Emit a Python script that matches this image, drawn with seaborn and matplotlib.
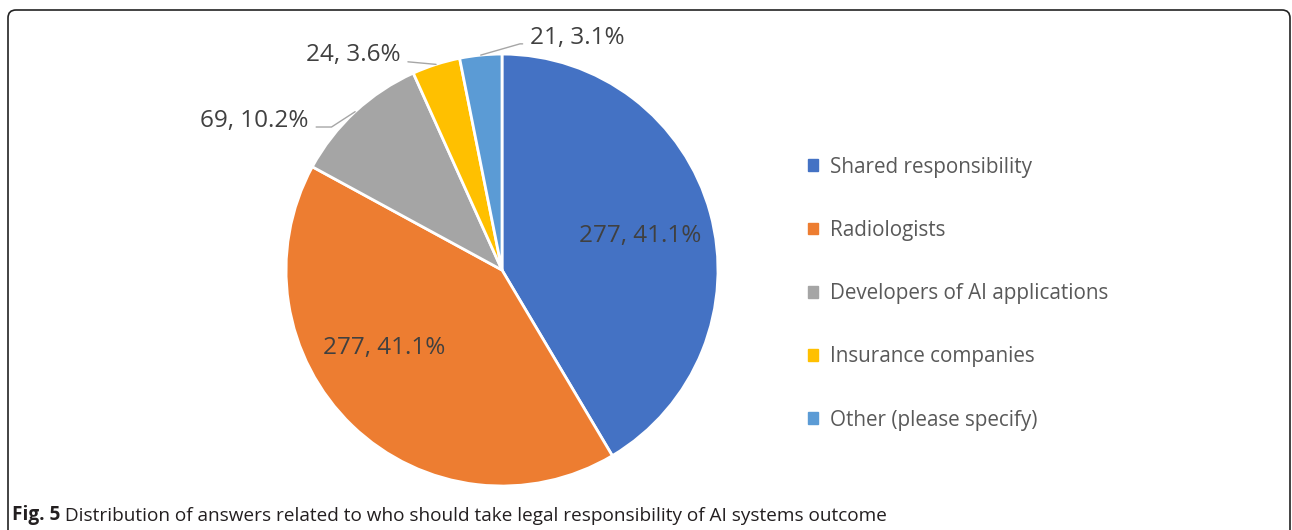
import matplotlib
matplotlib.use("Agg")
import matplotlib.pyplot as plt
import matplotlib.patches as mpatches
from matplotlib.transforms import IdentityTransform
import numpy as np
import seaborn as sns

# --- data ---
categories = ["Shared responsibility", "Radiologists", "Developers of AI applications",
              "Insurance companies", "Other (please specify)"]
counts = [277, 277, 69, 24, 21]
pct_labels = ["41.1%", "41.1%", "10.2%", "3.6%", "3.1%"]
caption_bold = "Fig. 5"
caption_text = " Distribution of answers related to who should take legal responsibility of AI systems outcome"

# --- style ---
sns.set_theme(style="white")
COLORS = sns.color_palette(["#4472C4", "#ED7D31", "#A5A5A5", "#FFC000", "#5B9BD5"])
plt.rcParams["font.family"] = ["Open Sans", "DejaVu Sans"]
TEXT_COLOR = "#404040"
LEGEND_COLOR = "#595959"
LABEL_SIZE = 17.5

# label placement (data units, pie radius = 1): inside labels and outside labels with leaders
INSIDE_POS = {0: (0.639, 0.157), 1: (-0.546, -0.361)}
OUTSIDE_POS = {
    2: ((-0.895, 0.69), "right", "angle,angleA=0,angleB=33,rad=0"),
    3: ((-0.47, 0.995), "right", "arc3"),
    4: ((0.13, 1.075), "left", "angle,angleA=180,angleB=16,rad=0"),
}

fig = plt.figure(figsize=(12.92, 5.30), dpi=100)
ax = fig.add_axes([0.1712, 0.0015, 0.4347, 0.978])

wedges, _ = ax.pie(counts, colors=COLORS, startangle=90, counterclock=False, radius=1,
                   wedgeprops=dict(edgecolor="white", linewidth=2))
ax.set_xlim(-1.3, 1.3)
ax.set_ylim(-1.2, 1.2)
ax.set_aspect("equal")
ax.axis("off")

for i, w in enumerate(wedges):
    label = f"{counts[i]}, {pct_labels[i]}"
    mid = np.deg2rad((w.theta1 + w.theta2) / 2)
    edge = (np.cos(mid), np.sin(mid))
    if i in INSIDE_POS:
        ax.text(*INSIDE_POS[i], label, ha="center", va="center", fontsize=LABEL_SIZE, color=TEXT_COLOR)
    else:
        pos, ha, conn = OUTSIDE_POS[i]
        ax.annotate(label, xy=edge, xytext=pos, ha=ha, va="center", fontsize=LABEL_SIZE,
                    color=TEXT_COLOR, annotation_clip=False,
                    arrowprops=dict(arrowstyle="-", color="#A6A6A6", lw=1,
                                    shrinkA=3, shrinkB=0, connectionstyle=conn,
                                    relpos=(1, 0.25) if ha == "right" else (0, 0.25)))

handles = [mpatches.Patch(color=c, label=l) for c, l in zip(COLORS, categories)]
leg = fig.legend(handles=handles, loc="upper left", bbox_to_anchor=(0.611, 0.7396),
                 frameon=False, fontsize=14.9, labelspacing=2.04,
                 handlelength=0.5, handleheight=0.5, handletextpad=0.55)
for t in leg.get_texts():
    t.set_color(LEGEND_COLOR)

# caption
t1 = fig.text(12 / 1292, 1 - 515 / 530, caption_bold, fontsize=13.7, fontweight="bold",
              ha="left", va="center", color="#231F20")
ax.annotate(caption_text, xy=(1, 0), xycoords=t1, ha="left", va="bottom",
            fontsize=13.7, color="#231F20", annotation_clip=False)

# rounded frame around the figure
frame = mpatches.FancyBboxPatch((8, -30), 1282, 550, boxstyle="round,pad=0,rounding_size=8",
                                transform=IdentityTransform(), fill=False,
                                edgecolor="#222222", linewidth=1.2)
fig.patches.append(frame)

fig.savefig("out.png", dpi=100)
